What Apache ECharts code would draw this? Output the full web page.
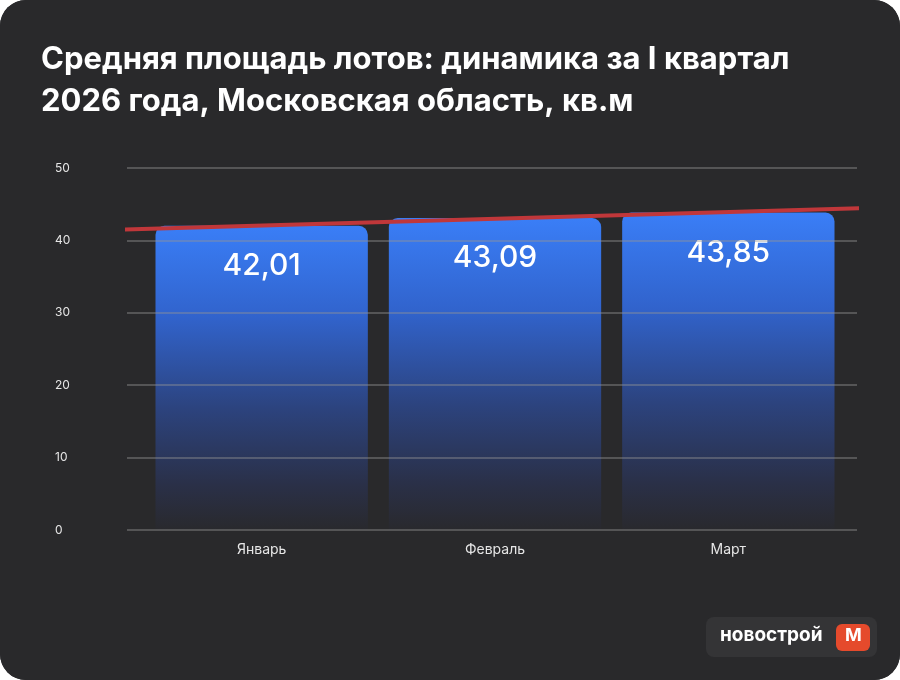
<!DOCTYPE html>
<html>
<head>
<meta charset="utf-8">
<script src="https://cdn.jsdelivr.net/npm/echarts@6/dist/echarts.min.js"></script>
<style>
  html, body { margin: 0; padding: 0; background: #ffffff; }
  #chart { width: 900px; height: 680px; border-radius: 26px; overflow: hidden; background: #29292b; }
</style>
</head>
<body>
<div id="chart"></div>
<script>
// данные
var categories = ['Январь', 'Февраль', 'Март'];
var values = [42.01, 43.09, 43.85];
var yTicks = [0, 10, 20, 30, 40, 50];
// линия тренда: [позиция по категории, значение]
var trendPoints = [[-0.595, 41.5], [2.575, 44.45]];

var chart = echarts.init(document.getElementById('chart'));

var FONT = 'Inter, "Noto Sans", sans-serif';

var option = {
  backgroundColor: '#29292b',
  title: {
    text: 'Средняя площадь лотов: динамика за I квартал\n2026 года, Московская область, кв.м',
    left: 36,
    top: 34,
    textStyle: {
      color: '#ffffff',
      fontSize: 31,
      fontWeight: 'bold',
      fontFamily: FONT,
      lineHeight: 42
    }
  },
  grid: [
    { left: 127, right: 43, top: 168, bottom: 150 },
    { left: 145, right: 55, top: 168, bottom: 150 }
  ],
  xAxis: [
    {
      type: 'value', gridIndex: 0,
      min: -0.577, max: 2.552,
      show: false
    },
    {
      type: 'category', gridIndex: 1,
      data: categories,
      axisLine: { show: false },
      axisTick: { show: false },
      axisLabel: { color: '#e6e6e6', fontSize: 14, fontFamily: FONT, margin: 13 }
    }
  ],
  yAxis: [
    {
      type: 'value', gridIndex: 0,
      min: yTicks[0], max: yTicks[yTicks.length - 1], interval: 10,
      z: 5,
      axisLine: { show: false },
      axisTick: { show: false },
      axisLabel: {
        color: '#e6e6e6', fontSize: 12, fontFamily: FONT,
        align: 'left', margin: 72
      },
      splitLine: { lineStyle: { color: 'rgba(150,150,150,0.55)', width: 1.5 } }
    },
    {
      type: 'value', gridIndex: 1,
      min: yTicks[0], max: yTicks[yTicks.length - 1], interval: 10,
      show: false,
      splitLine: { show: false }
    }
  ],
  series: [
    {
      type: 'bar',
      xAxisIndex: 1, yAxisIndex: 1,
      data: values,
      barWidth: '91%',
      itemStyle: {
        borderRadius: [9, 9, 0, 0],
        color: new echarts.graphic.LinearGradient(0, 0, 0, 1, [
          { offset: 0, color: '#3a7ef7' },
          { offset: 0.3, color: '#3163cc' },
          { offset: 0.6, color: '#2c437e' },
          { offset: 0.85, color: '#2a3048' },
          { offset: 1, color: '#29292d' }
        ])
      },
      label: {
        show: true,
        position: 'insideTop',
        distance: 25,
        color: '#ffffff',
        fontSize: 30,
        fontFamily: FONT,
        fontWeight: 500,
        formatter: function (p) { return p.value.toFixed(2).replace('.', ','); }
      }
    },
    {
      type: 'line',
      xAxisIndex: 0, yAxisIndex: 0,
      data: trendPoints,
      symbol: 'none',
      clip: false,
      z: 10,
      lineStyle: { color: '#c0373a', width: 4 }
    }
  ],
  graphic: [
    {
      type: 'group',
      left: 706, top: 617,
      children: [
        {
          type: 'rect',
          shape: { x: 0, y: 0, width: 171, height: 40, r: 8 },
          style: { fill: '#343436' }
        },
        {
          type: 'text',
          left: 14, top: 9,
          style: {
            text: 'новострой', fill: '#ffffff',
            font: 'bold 19px ' + FONT
          }
        },
        {
          type: 'rect',
          shape: { x: 130, y: 7, width: 34, height: 27, r: 6 },
          style: { fill: '#e54a2c' }
        },
        {
          type: 'text',
          left: 139, top: 10,
          style: {
            text: 'М', fill: '#ffffff',
            font: 'bold 18px ' + FONT
          }
        }
      ]
    }
  ]
};

chart.setOption(option);
</script>
</body>
</html>
